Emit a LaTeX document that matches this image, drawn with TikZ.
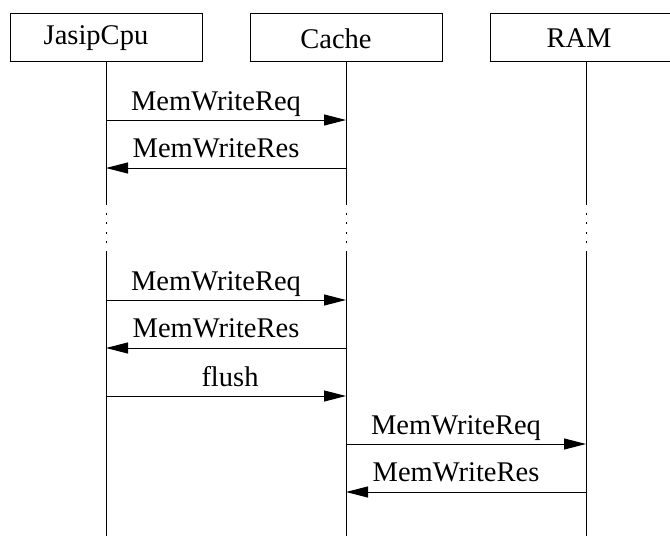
\documentclass[tikz,border=0pt]{standalone}
\usepackage{fontspec}
\setmainfont{Liberation Serif}
\usetikzlibrary{arrows.meta}
\tikzset{
  actor/.style={draw, line width=1pt, minimum width=192pt, minimum height=48pt, inner sep=0pt},
  lifeline/.style={line width=1pt},
  gap/.style={line width=1pt, dash pattern=on 2pt off 7.5pt},
  msg/.style={line width=1pt, -{Triangle[length=22pt,width=11pt]}},
  msglabel/.style={anchor=base, inner sep=0pt, font=\fontsize{28.5}{34}\selectfont},
  boxlabel/.style={font=\fontsize{28.5}{34}\selectfont, xshift=-10pt, yshift=-1.5pt}
}
\begin{document}
\begin{tikzpicture}[x=1pt,y=-1pt]
\useasboundingbox (0,0) rectangle (670,536);
\clip (0,0) rectangle (670,536);
\node[actor, label={[boxlabel]center:JasipCpu}] (cpu) at (106,37) {};
\node[actor, label={[boxlabel]center:Cache}] (cache) at (346,37) {};
\node[actor, label={[boxlabel, xshift=3pt]center:RAM}] (ram) at (586,37) {};
% lifelines
\foreach \n in {cpu,cache,ram}{
  \coordinate (\n a) at (\n.south |- 0,203);
  \coordinate (\n b) at (\n.south |- 0,251);
  \coordinate (\n e) at (\n.south |- 0,536);
  \draw[lifeline] (\n.south) -- (\n a);
  \draw[gap] (\n a) -- (\n b);
  \draw[lifeline] (\n b) -- (\n e);
}
% messages
\draw[msg] (cpu |- 0,120) -- (cache |- 0,120);
\node[msglabel] (l1) at (216,110) {MemWriteReq};
\draw[msg] (cache |- 0,168) -- (cpu |- 0,168);
\node[msglabel] (l2) at (216,157) {MemWriteRes};
\draw[msg] (cpu |- 0,300) -- (cache |- 0,300);
\node[msglabel] (l3) at (216,290) {MemWriteReq};
\draw[msg] (cache |- 0,348) -- (cpu |- 0,348);
\node[msglabel] (l4) at (216,337) {MemWriteRes};
\draw[msg] (cpu |- 0,396) -- (cache |- 0,396);
\node[msglabel] (l5) at (230,386) {flush};
\draw[msg] (cache |- 0,444) -- (ram |- 0,444);
\node[msglabel] (l6) at (456,434) {MemWriteReq};
\draw[msg] (ram |- 0,492) -- (cache |- 0,492);
\node[msglabel] (l7) at (456,481) {MemWriteRes};
\end{tikzpicture}
\end{document}
